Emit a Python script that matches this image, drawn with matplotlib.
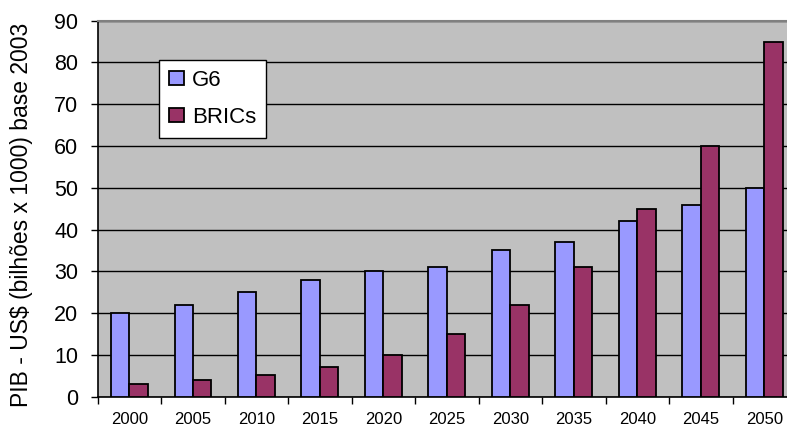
import matplotlib.pyplot as plt
import numpy as np

plt.rcParams['font.family'] = ['Liberation Sans', 'DejaVu Sans']

anos = ['2000', '2005', '2010', '2015', '2020', '2025', '2030', '2035', '2040', '2045', '2050']
g6 = [20, 22, 25, 28, 30, 31, 35, 37, 42, 46, 50]
brics = [3, 4, 5.3, 7.2, 10, 15, 22, 31, 45, 60, 85]

fig = plt.figure(figsize=(7.87, 4.28), dpi=100)
# area do grafico passa um pouco da borda direita
ax = fig.add_axes([97.7 / 787, 31.3 / 428, (796 - 97.7) / 787, 376 / 428])
ax.set_facecolor('#C0C0C0')

x = np.arange(len(anos))
w = 0.29
ax.bar(x - w / 2, g6, w, color='#9999FF', edgecolor='black', linewidth=1.3, label='G6', zorder=3)
ax.bar(x + w / 2, brics, w, color='#993366', edgecolor='black', linewidth=1.3, label='BRICs', zorder=3)

ax.set_xlim(-0.5, 10.5)
ax.set_ylim(0, 90)
ax.set_yticks(range(0, 91, 10))
ax.yaxis.grid(True, color='black', linewidth=1.0, zorder=0)
ax.set_axisbelow(True)

ax.set_xticks(x)
ax.set_xticklabels(anos, fontsize=12)
ax.set_xticks(np.arange(-0.5, 11, 1), minor=True)
ax.tick_params(axis='x', which='major', length=0, pad=11)
ax.tick_params(axis='x', which='minor', length=5, width=1, direction='out')
ax.tick_params(axis='y', length=5, width=1, labelsize=15.5, pad=9)

for s in ['left', 'bottom']:
    ax.spines[s].set_linewidth(1.2)
ax.spines['right'].set_visible(False)
ax.spines['top'].set_color('#808080')
ax.spines['top'].set_linewidth(1.5)

fig.text(22 / 787, 0.498, 'PIB - US$ (bilhões x 1000) base 2003', fontsize=16.5,
         rotation=90, ha='center', va='center')

leg = fig.legend(loc='upper left', bbox_to_anchor=(159 / 787, 1 - 60 / 428), fontsize=16,
                 frameon=True, fancybox=False, edgecolor='black', handlelength=0.68,
                 handleheight=0.6, handletextpad=0.36, labelspacing=0.7, borderpad=0.45,
                 borderaxespad=0)
leg.get_frame().set_linewidth(1.0)
leg.get_frame().set_facecolor('white')
leg.get_frame().set_alpha(1)

fig.savefig('out.png', dpi=100)
